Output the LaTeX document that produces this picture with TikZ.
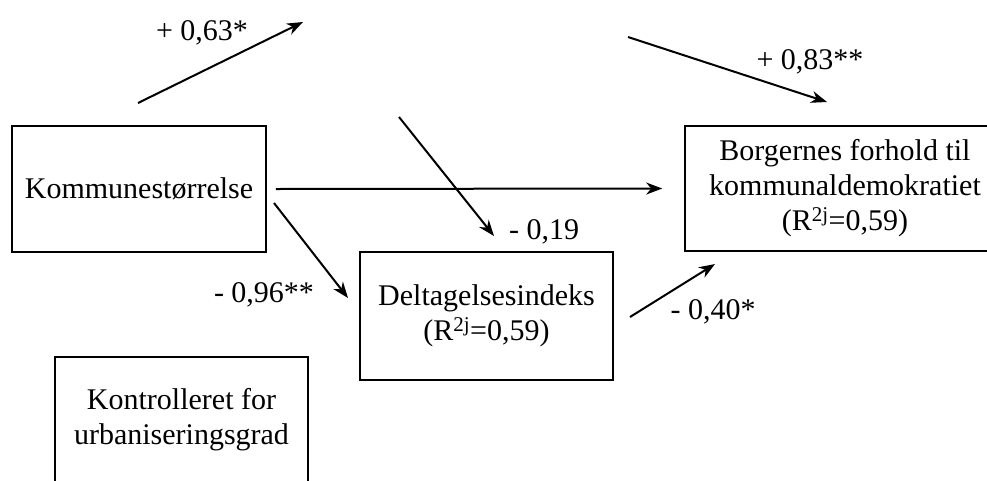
\documentclass[tikz,border=0pt]{standalone}
\usepackage{fontspec}
\setmainfont{Liberation Serif}
\usetikzlibrary{arrows.meta,calc}
\begin{document}
\begin{tikzpicture}[x=1pt,y=-1pt,
  box/.style={draw, line width=1.6pt, align=center, inner sep=0pt,
    font=\fontsize{30}{35}\selectfont},
  coef/.style={font=\fontsize{30}{34}\selectfont, inner sep=0pt},
  arr/.style={line width=2pt, -{Stealth[length=16pt,width=12pt,inset=5pt]}}]
\useasboundingbox[fill=white] (0,0) rectangle (987,480);
\node[box, minimum width=254pt, minimum height=126pt] (k) at (139,189) {Kommunestørrelse};
\node[box, minimum width=253pt, minimum height=128pt] (d) at (486.5,316) {Deltagelsesindeks\\(R\textsuperscript{2j}=0,59)};
\node[box, minimum width=320pt, minimum height=125pt] (b) at (845,188.5) {Borgernes forhold til\\kommunaldemokratiet\\(R\textsuperscript{2j}=0,59)};
\node[box, minimum width=253pt, minimum height=126pt] (c) at (181.5,420) {Kontrolleret for\\urbaniseringsgrad};
% floating arrow ends
\coordinate (a1s) at (138,103); \coordinate (a1e) at (303,22);
\coordinate (a2s) at (628,37);  \coordinate (a2e) at (827,102);
\coordinate (a4s) at (399,117); \coordinate (a4e) at (494,236);
\coordinate (a5s) at (274,203); \coordinate (a5e) at (348,298);
\coordinate (a6s) at (630,317); \coordinate (a6e) at (715,264);
\draw[arr] (a1s) -- (a1e);
\draw[arr] (a2s) -- (a2e);
\draw[arr] ($(k.east)+(9,0)$) -- ($(b.west)+(-22,0)$);
\draw[arr] (a4s) -- (a4e);
\draw[arr] (a5s) -- (a5e);
\draw[arr] (a6s) -- (a6e);
\node[coef] (l1) at (202,33) {+ 0,63*};
\node[coef] (l2) at (810,62) {+ 0,83**};
\node[coef] (l4) at (544,232) {- 0,19};
\node[coef] (l5) at (264,295) {- 0,96**};
\node[coef] (l6) at (713,312) {- 0,40*};
\end{tikzpicture}
\end{document}
